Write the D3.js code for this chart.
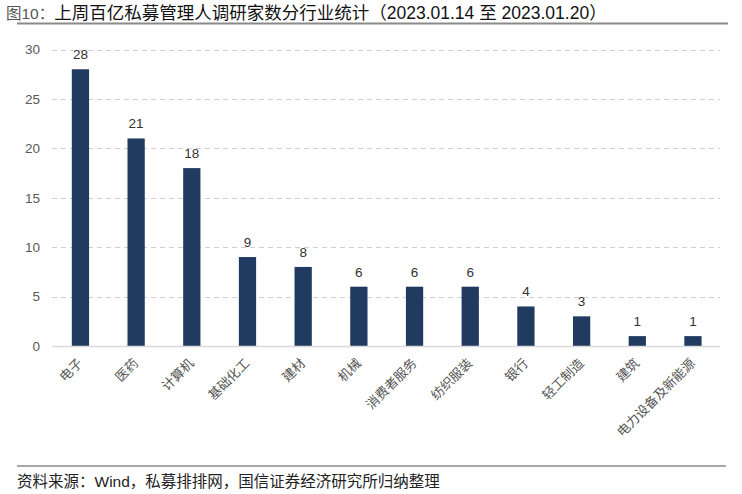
<!DOCTYPE html>
<html><head><meta charset="utf-8">
<script src="https://cdn.jsdelivr.net/npm/d3@7"></script>
<style>body{margin:0;background:#fff}svg{display:block}</style>
</head><body>
<svg id="c" width="742" height="494"></svg>
<script>
const categories = ["电子","医药","计算机","基础化工","建材","机械","消费者服务","纺织服装","银行","轻工制造","建筑","电力设备及新能源"];
const values = [28,21,18,9,8,6,6,6,4,3,1,1];
const yTicks = [0,5,10,15,20,25,30];
const titlePrefix = "图10：";
const titleText = "上周百亿私募管理人调研家数分行业统计（2023.01.14 至 2023.01.20）";
const sourceText = "资料来源：Wind，私募排排网，国信证券经济研究所归纳整理";

const svg = d3.select("#c");
const font = "'Liberation Sans', Arial, 'Noto Sans CJK SC', sans-serif";

// Title
const t = svg.append("text").attr("x", 6).attr("y", 19).attr("font-family", font).attr("font-size", 17.5);
t.append("tspan").attr("fill", "#555").attr("font-size", 15.5).text(titlePrefix);
t.append("tspan").attr("fill", "#111").text(titleText);
svg.append("line").attr("x1", 17).attr("x2", 728).attr("y1", 23.5).attr("y2", 23.5).attr("stroke", "#8a8a8a").attr("stroke-width", 2);

// Scales
const x = d3.scaleBand().domain(categories).range([52.6, 720.8]).paddingInner(0.69).paddingOuter(0.345);
const y = d3.scaleLinear().domain([0, 30]).range([346, 49.5]);

// Grid
svg.append("g").selectAll("line").data(yTicks.filter(d => d > 0)).join("line")
  .attr("x1", 52).attr("x2", 720).attr("y1", d => Math.round(y(d)) + 0.5).attr("y2", d => Math.round(y(d)) + 0.5)
  .attr("stroke", "#d0d0d0").attr("stroke-dasharray", "5,4");

// Y axis
const ya = svg.append("g").attr("transform", "translate(44,0)")
  .call(d3.axisLeft(y).tickValues(yTicks).tickSize(0).tickPadding(4));
ya.select(".domain").remove();
ya.selectAll("text").attr("font-family", font).attr("font-size", 13.5).attr("fill", "#595959");

// Bars
svg.append("g").selectAll("rect").data(values).join("rect")
  .attr("x", (d, i) => x(categories[i])).attr("width", x.bandwidth())
  .attr("y", d => y(d)).attr("height", d => y(0) - y(d))
  .attr("fill", "#203a60");

// Baseline
svg.append("line").attr("x1", 52).attr("x2", 720).attr("y1", 346.5).attr("y2", 346.5).attr("stroke", "#d9d9d9").attr("stroke-width", 1.5);

// Value labels
svg.append("g").selectAll("text").data(values).join("text")
  .attr("x", (d, i) => x(categories[i]) + x.bandwidth() / 2).attr("y", d => y(d) - 10)
  .attr("text-anchor", "middle").attr("font-family", font).attr("font-size", 13.5).attr("fill", "#333")
  .text(d => d);

// X labels
svg.append("g").selectAll("text").data(categories).join("text")
  .attr("transform", d => `translate(${x(d) + x.bandwidth() / 2 + 3},${364}) rotate(-45)`)
  .attr("text-anchor", "end").attr("font-family", "'Noto Sans CJK SC', sans-serif").attr("font-size", 13).attr("fill", "#555")
  .text(d => d);

// Footer
svg.append("line").attr("x1", 17).attr("x2", 726).attr("y1", 466).attr("y2", 466).attr("stroke", "#8a8a8a").attr("stroke-width", 1.5);
svg.append("text").attr("x", 17).attr("y", 487).attr("font-family", font).attr("font-size", 15.5).attr("fill", "#222").text(sourceText);
</script>
</body></html>
